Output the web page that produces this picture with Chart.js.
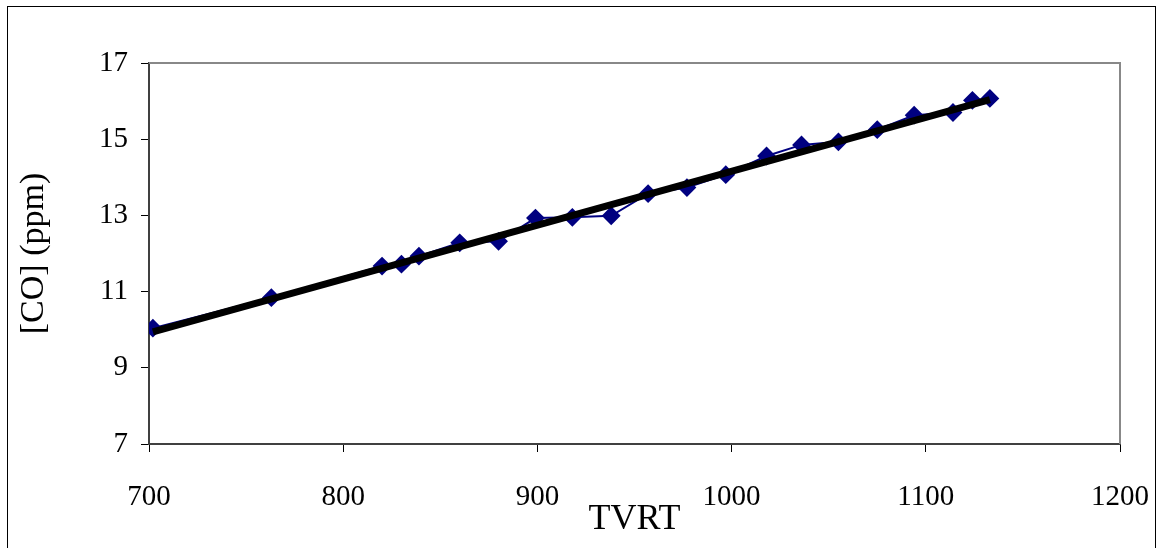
<!DOCTYPE html>
<html>
<head>
<meta charset="utf-8">
<script src="https://cdn.jsdelivr.net/npm/chart.js@4"></script>
<style>
  html, body { margin: 0; padding: 0; background: #fff; }
  #wrap { position: relative; width: 1160px; height: 548px; }
  #frame { position: absolute; left: 7px; top: 6px; width: 1147px; height: 560px; border: 1px solid #000; pointer-events: none; }
</style>
</head>
<body>
<div id="wrap">
  <canvas id="coChart" width="1160" height="548"></canvas>
  <div id="frame"></div>
</div>
<script>
// measured points, TVRT vs [CO]
const tvrt = [702, 763, 820, 830, 839, 860, 880, 899, 918, 938, 957, 977, 997, 1018, 1036, 1055, 1075, 1094, 1114, 1124, 1133]
const co = [10.04, 10.84, 11.67, 11.72, 11.93, 12.28, 12.32, 12.93, 12.95, 12.99, 13.57, 13.73, 14.07, 14.56, 14.85, 14.93, 15.25, 15.63, 15.70, 16.02, 16.07]

// fitted line ends
const fitX = [702, 1133]
const fitY = [9.94, 16.04]

const xTicks = [700, 800, 900, 1000, 1100, 1200]
const yTicks = [7, 9, 11, 13, 15, 17]

const serif = "'Liberation Serif', 'Times New Roman', serif"

// grey frame along the top and right of the plot area
const plotFrame = {
  id: 'plotFrame',
  afterDraw(chart) {
    const { ctx, chartArea: a } = chart
    ctx.save()
    ctx.strokeStyle = '#888888'
    ctx.lineWidth = 2
    ctx.beginPath()
    ctx.moveTo(a.left, a.top)
    ctx.lineTo(a.right, a.top)
    ctx.lineTo(a.right, a.bottom)
    ctx.stroke()
    ctx.restore()
  }
}

const ctx = document.getElementById('coChart')

new Chart(ctx, {
  type: 'scatter',
  data: {
    datasets: [{
      label: 'fit',
      data: fitX.map((x, i) => ({ x: x, y: fitY[i] })),
      showLine: true,
      borderColor: '#000000',
      borderWidth: 7,
      pointRadius: 0,
      order: 0
    }, {
      label: 'CO',
      data: tvrt.map((x, i) => ({ x: x, y: co[i] })),
      showLine: true,
      borderColor: '#000080',
      borderWidth: 2,
      backgroundColor: '#000080',
      pointBackgroundColor: '#000080',
      pointBorderColor: '#000080',
      pointStyle: 'rectRot',
      pointRadius: 8,
      order: 1
    }]
  },
  options: {
    responsive: false,
    animation: false,
    layout: {
      padding: { top: 63, right: 40, bottom: 0, left: 0 }
    },
    plugins: {
      legend: { display: false },
      tooltip: { enabled: false }
    },
    scales: {
      x: {
        type: 'linear',
        min: 700,
        max: 1200,
        afterBuildTicks: (scale) => { scale.ticks = xTicks.map(v => ({ value: v })) },
        afterFit: (scale) => {
          scale.height = 104
          scale.paddingLeft = 0
          scale.paddingRight = 0
        },
        grid: {
          drawOnChartArea: false,
          tickLength: 8,
          color: '#000000'
        },
        border: { color: '#404040', width: 2 },
        ticks: {
          color: '#000000',
          padding: 28,
          callback: (v) => String(v),
          font: { family: serif, size: 29 }
        },
        title: {
          display: true,
          text: 'TVRT',
          color: '#000000',
          padding: { top: 0, bottom: 7 },
          font: { family: serif, size: 36 }
        }
      },
      y: {
        type: 'linear',
        min: 7,
        max: 17,
        afterBuildTicks: (scale) => { scale.ticks = yTicks.map(v => ({ value: v })) },
        afterFit: (scale) => { scale.width = 149 },
        grid: {
          drawOnChartArea: false,
          tickLength: 8,
          color: '#000000'
        },
        border: { color: '#404040', width: 2 },
        ticks: {
          color: '#000000',
          padding: 13,
          callback: (v) => String(v),
          font: { family: serif, size: 29 }
        },
        title: {
          display: true,
          text: '[CO] (ppm)',
          color: '#000000',
          padding: { top: 14, bottom: 0 },
          font: { family: serif, size: 34 }
        }
      }
    }
  },
  plugins: [plotFrame]
})
</script>
</body>
</html>
